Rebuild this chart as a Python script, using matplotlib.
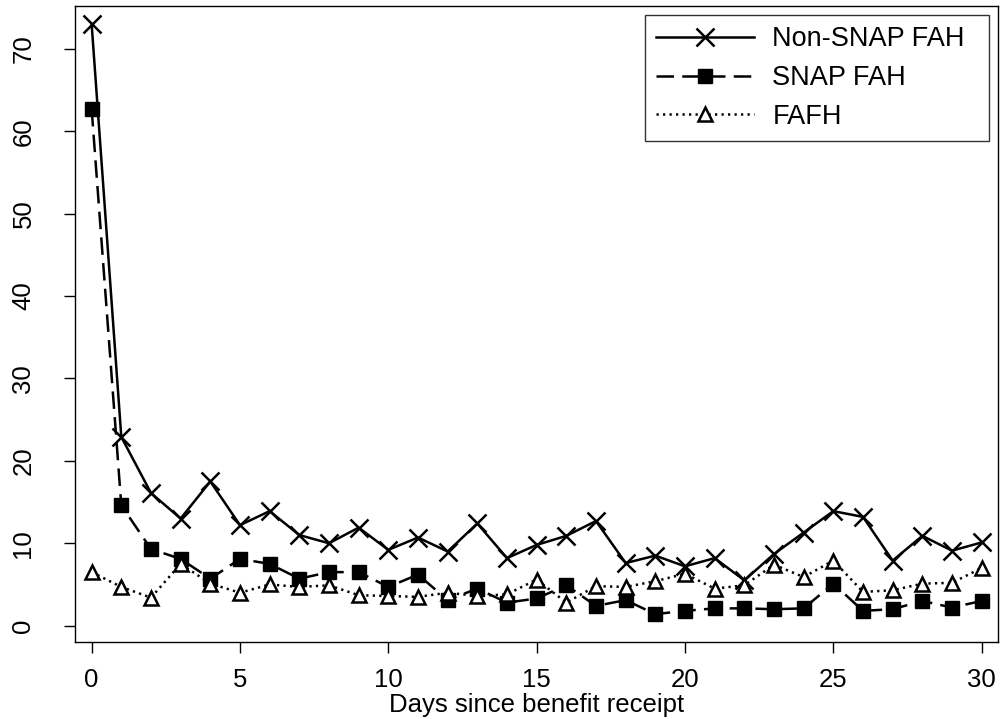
import matplotlib
matplotlib.use("Agg")
import matplotlib.pyplot as plt

plt.rcParams['font.family'] = ['Liberation Sans', 'DejaVu Sans']

days = list(range(31))
non_snap_fah = [73.0, 22.9, 16.1, 13.0, 17.5, 12.2, 13.9, 11.0, 10.0, 11.9,
                9.2, 10.7, 9.0, 12.4, 8.2, 9.8, 10.9, 12.7, 7.6, 8.5,
                7.2, 8.2, 5.5, 8.7, 11.3, 13.9, 13.2, 7.9, 10.9, 9.1, 10.1]
snap_fah = [62.7, 14.6, 9.3, 8.1, 5.7, 8.1, 7.5, 5.7, 6.5, 6.5,
            4.7, 6.2, 3.1, 4.5, 2.8, 3.3, 4.9, 2.4, 3.1, 1.4,
            1.8, 2.1, 2.1, 2.0, 2.1, 5.1, 1.8, 2.0, 3.0, 2.2, 3.0]
fafh = [6.5, 4.7, 3.4, 7.5, 5.1, 4.0, 5.0, 4.7, 4.9, 3.7,
        3.6, 3.5, 4.0, 3.6, 3.8, 5.6, 2.8, 4.8, 4.7, 5.4,
        6.3, 4.5, 4.9, 7.4, 5.9, 7.9, 4.1, 4.3, 5.1, 5.2, 7.0]
labels = ["Non-SNAP FAH", "SNAP FAH", "FAFH"]
xticks = [0, 5, 10, 15, 20, 25, 30]
yticks = [0, 10, 20, 30, 40, 50, 60, 70]

FS = 18.5
LFS = 19.5

fig = plt.figure(figsize=(10.03, 7.19), dpi=100)
ax = fig.add_axes([0.0748, 0.1071, 0.9202, 0.8846])

ax.plot(days, non_snap_fah, color='black', lw=1.8, ls='-', marker='x',
        ms=12.5, mew=1.8, label=labels[0])
ax.plot(days, snap_fah, color='black', lw=1.8, ls=(0, (7, 3.3)), marker='s',
        ms=10.5, mew=1, mfc='black', label=labels[1])
ax.plot(days, fafh, color='black', lw=1.8, ls=(0, (0.9, 1.7)), marker='^',
        ms=10, mew=1.8, mfc='white', label=labels[2])

ax.set_xlim(-0.56, 30.55)
ax.set_ylim(-1.98, 75.2)
ax.set_xticks(xticks)
ax.set_yticks(yticks)
ax.tick_params(axis='both', direction='out', length=8, width=1, labelsize=FS,
               color='black')
ax.tick_params(axis='x', pad=11)
ax.tick_params(axis='y', pad=20.5)
for lab in ax.get_yticklabels():
    lab.set_rotation(90)
    lab.set_va('center')
for sp in ax.spines.values():
    sp.set_linewidth(1)

ax.set_xlabel("Days since benefit receipt", fontsize=FS, labelpad=0.5)

leg = ax.legend(loc='upper left', bbox_to_anchor=(0.6176, 0.7858, 0.3727, 0.2),
                mode='expand', fontsize=LFS, handlelength=3.62, numpoints=1,
                frameon=True, fancybox=False, edgecolor='black',
                borderaxespad=0, labelspacing=0.47, handletextpad=0.66,
                borderpad=0.42)
leg.get_frame().set_linewidth(1)

fig.savefig("out.png", dpi=100)
